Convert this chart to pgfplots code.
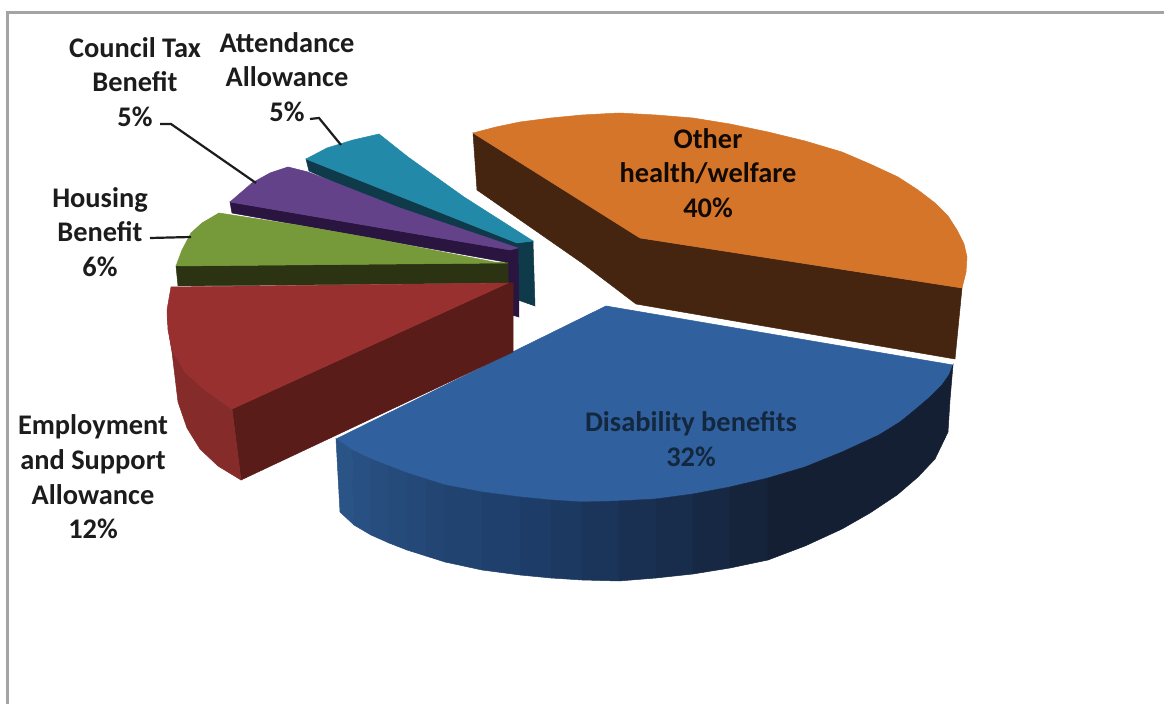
\documentclass[border=0pt]{standalone}
\usepackage{fontspec}
\setmainfont{Carlito}
\usepackage{pgfplots}
\pgfplotsset{compat=1.18}
\definecolor{oT}{HTML}{D5752A}
\definecolor{oS}{HTML}{45250F}
\definecolor{bT}{HTML}{30609E}
\definecolor{rT}{HTML}{983030}
\definecolor{rO}{HTML}{852C2A}
\definecolor{rC}{HTML}{5A1C18}
\definecolor{gT}{HTML}{76993A}
\definecolor{gS}{HTML}{2B3312}
\definecolor{pT}{HTML}{63428A}
\definecolor{pS}{HTML}{2A1440}
\definecolor{tT}{HTML}{2389A8}
\definecolor{tS}{HTML}{0F3A4A}
\definecolor{fr}{HTML}{A4A4A4}
\definecolor{ink}{HTML}{1C1C1C}
\definecolor{bA}{HTML}{2A5386}
\definecolor{bB}{HTML}{1D3D68}
\definecolor{bC}{HTML}{182C4C}
\definecolor{bD}{HTML}{141F33}
\newcommand{\shape}[2]{\addplot[fill=#1,draw=#1,line width=0.25pt,mark=none] coordinates {#2} --cycle;}
\newcommand{\lab}[4][ink]{\node[text=#1,align=center,inner sep=0pt,anchor=center,font=\fontsize{14.2}{17.35}\selectfont\bfseries] at (axis cs:#2,#3) {#4};}
\begin{document}
\begin{tikzpicture}
\begin{axis}[scale only axis,width=582pt,height=352pt,hide axis,
  xmin=0,xmax=1164,ymin=0,ymax=704,y dir=reverse,clip=true]
% page background
\addplot[fill=white,draw=none,mark=none] coordinates {(0,0)(1164,0)(1164,704)(0,704)} --cycle;
% frame
\addplot[fr,line width=1.5pt,mark=none] coordinates {(7.5,704) (7.5,13) (1164,13)};
% Other health/welfare
\shape{oS}{(473,133)(477,190)(582,263)(636,304)(955,359)(962,288)(640,238)}
\shape{oT}{(473,133)(496,127)(520,122)(551,118)(582,115)(619,113)(656,115)(693,118)(730,124)(768,132)(805,141)(842,152)(870,164)(898,177)(918,190)(935,203)(948,216)(957,230)(964,244)(967,257)(966,272)(962,288)(640,238)}
% Disability benefits
\shape{bT}{(606,306)(953,365)(949,375)(942,385)(930,397)(916,409)(900,422)(879,435)(842,452)(805,467)(768,478)(730,487)(693,494)(656,499)(619,501)(582,502)(551,500)(520,497)(482,492)(445,485)(407,473)(371,459)(352,450)(336,439)}
\shape{bA!100!bB}{(336,439)(352,450)(354,525)(340,512)}
\shape{bA!87!bB}{(352,450)(371,459)(371,535)(354,525)}
\shape{bA!75!bB}{(371,459)(389,466)(389,543)(371,535)}
\shape{bA!62!bB}{(389,466)(407,473)(407,550)(389,543)}
\shape{bA!50!bB}{(407,473)(426,479)(426,556)(407,550)}
\shape{bA!37!bB}{(426,479)(445,485)(445,562)(426,556)}
\shape{bA!25!bB}{(445,485)(482,492)(482,570)(445,562)}
\shape{bA!12!bB}{(482,492)(520,497)(520,575)(482,570)}
\shape{bB!100!bC}{(520,497)(551,500)(551,578)(520,575)}
\shape{bB!75!bC}{(551,500)(582,502)(582,580)(551,578)}
\shape{bB!50!bC}{(582,502)(619,501)(619,581)(582,580)}
\shape{bB!25!bC}{(619,501)(656,499)(656,578)(619,581)}
\shape{bC!100!bD}{(656,499)(693,494)(693,574)(656,578)}
\shape{bC!67!bD}{(693,494)(730,487)(730,568)(693,574)}
\shape{bC!33!bD}{(730,487)(768,478)(768,560)(730,568)}
\shape{bD}{(768,478)(805,467)(842,452)(879,435)(900,422)(916,409)(930,397)(942,385)(949,375)(953,365)(950,400)(948,432)(935,459)(918,477)(897,495)(870,513)(842,529)(805,546)(768,560)}
% Attendance Allowance
\shape{tS}{(306,159)(309,171)(512,262)(518,300)(535,306)(533,241)(517,243)}
\shape{tT}{(306,159)(327,148)(353,140)(379,134)(408,157)(464,197)(533,241)(517,243)}
% Council Tax Benefit
\shape{pS}{(230,202)(232,213)(505,262)(508,314)(519,317)(518,248)(510,250)}
\shape{pT}{(230,202)(252,183)(270,173)(288,167)(308,172)(400,208)(518,248)(510,250)}
% Housing Benefit
\shape{gS}{(176,266)(178,286)(508,283)(508,263)}
\shape{gT}{(176,266)(182,250)(191,233)(202,223)(219,213)(297,225)(371,238)(494,262)(508,263)}
% Employment and Support Allowance
\shape{rC}{(232,409)(241,480)(513,352)(513,283)(508,283)}
\shape{rO}{(167,315)(170,340)(172,352)(178,402)(187,428)(200,449)(218,466)(241,480)(232,409)(205,390)(185,372)(172,350)}
\shape{rT}{(171,287)(508,283)(232,409)(205,390)(185,372)(172,350)(168,330)(167,310)}
% leaders
\addplot[ink,line width=1.1pt,mark=none] coordinates {(310,119)(319,118)(341,145)};
\addplot[ink,line width=1.1pt,mark=none] coordinates {(160,124)(171,124)(256,183)};
\addplot[ink,line width=1.1pt,mark=none] coordinates {(150,238)(191,237)};
% labels
\lab{135}{82}{Council Tax\\Benefit\\5\%}
\lab{287}{77}{Attendance\\Allowance\\5\%}
\lab{100}{232}{Housing\\Benefit\\6\%}
\lab{93}{477}{Employment\\and Support\\Allowance\\12\%}
\lab[black!75!oS]{708}{173}{Other\\health/welfare\\40\%}
\lab[black!60!bT]{691}{439}{Disability benefits\\32\%}
\end{axis}
\end{tikzpicture}
\end{document}
